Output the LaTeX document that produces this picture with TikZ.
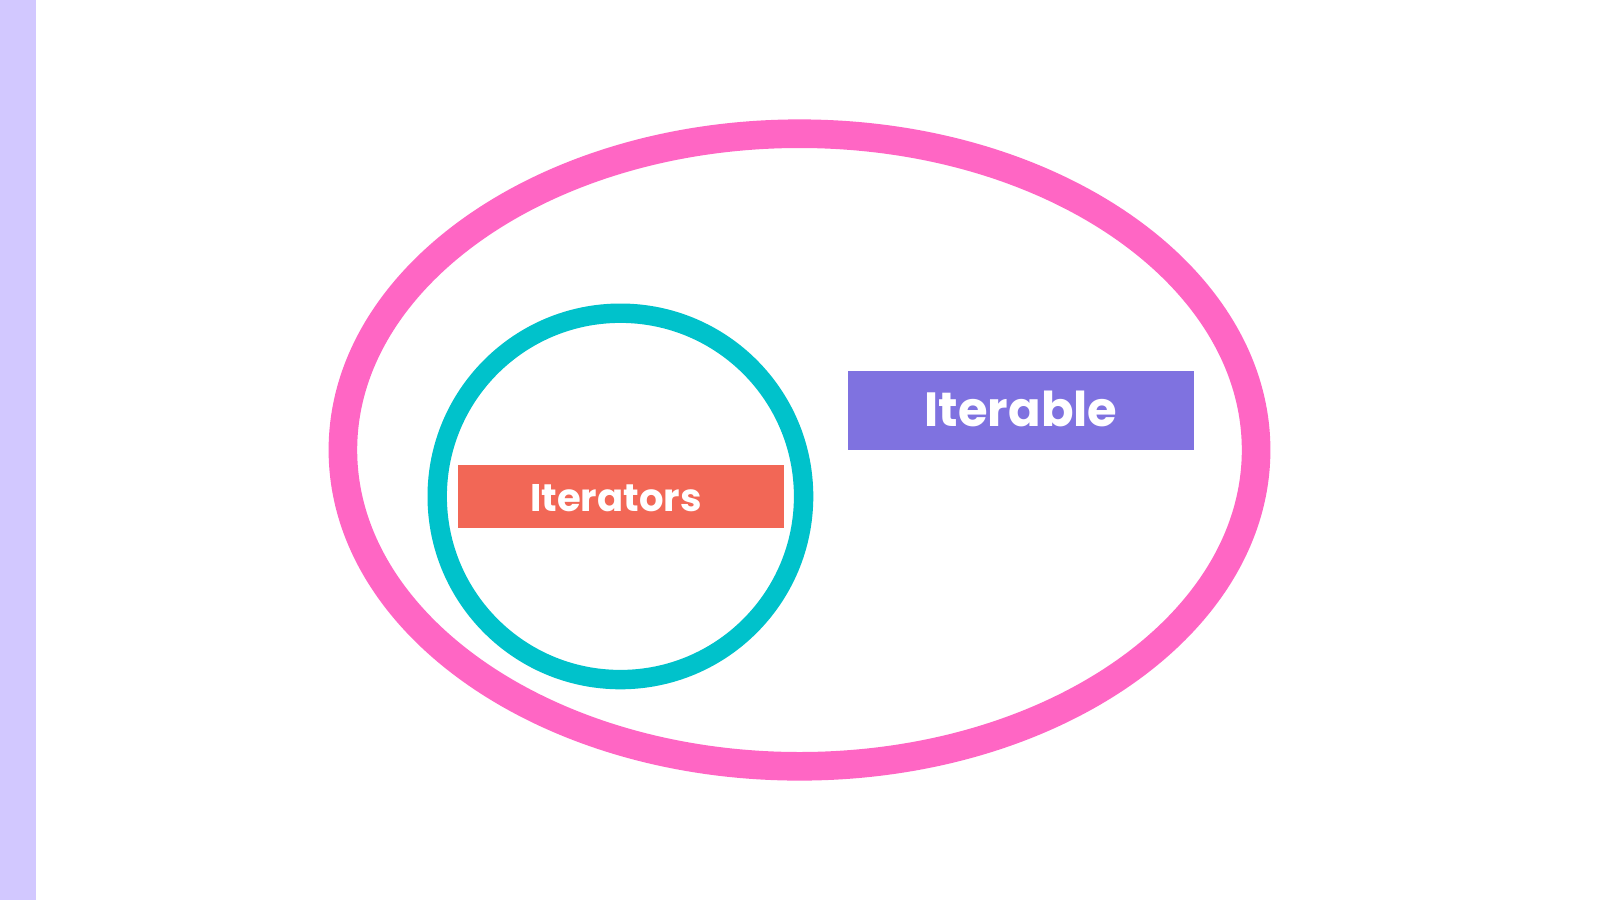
\documentclass[tikz,border=0pt]{standalone}
\usepackage{fontspec}
\setmainfont{Poppins}
\definecolor{lav}{HTML}{D2C8FF}
\definecolor{pinkc}{HTML}{FF66C4}
\definecolor{tealc}{HTML}{00C2CB}
\definecolor{redc}{HTML}{F26756}
\definecolor{purc}{HTML}{7F72E0}
\tikzset{
  lbl/.style={text=white, font=\bfseries, anchor=base, inner sep=0pt},
}
\begin{document}
\begin{tikzpicture}[x=1pt,y=-1pt]
\useasboundingbox (0,0) rectangle (1600,900);
\fill[white] (0,0) rectangle (1600,900);
\fill[lav] (0,0) rectangle (36,900);
\draw[pinkc, line width=28.6pt] (799.5,450) ellipse [x radius=456.6, y radius=316.3];
\draw[tealc, line width=19.4pt] (620.4,496.4) circle [radius=183.2];
\fill[redc] (457.5,465) rectangle (784,528);
\fill[purc] (847.5,371) rectangle (1194,450);
\node[lbl, font=\bfseries\fontsize{38.5}{38.5}\selectfont] (iters) at (616,511) {Iterators};
\node[lbl, font=\bfseries\fontsize{48}{48}\selectfont] (itble) at (1021,426.7) {Iterable};
\end{tikzpicture}
\end{document}
